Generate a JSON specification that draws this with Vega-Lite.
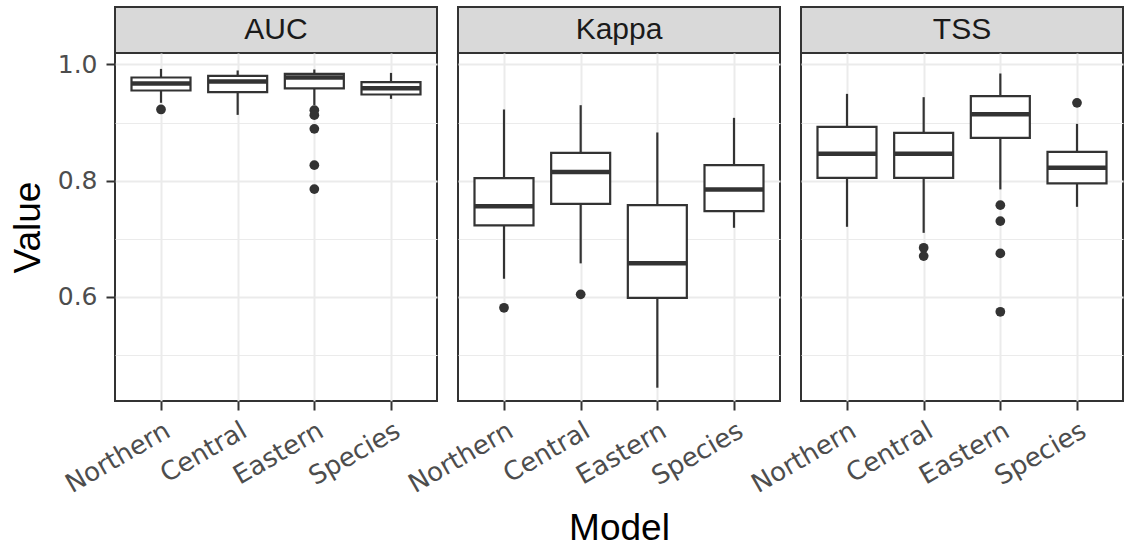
{
  "$schema": "https://vega.github.io/schema/vega-lite/v6.json",
  "padding": {"left": 8, "top": 6, "right": 0, "bottom": 0},
  "background": "white",
  "datasets": {
    "strips": [{"metric": "AUC"}, {"metric": "Kappa"}, {"metric": "TSS"}],
    "boxes": [
      {"metric": "AUC", "model": "Northern", "lower": 0.934, "q1": 0.9552, "median": 0.9673, "q3": 0.9776, "upper": 0.9924},
      {"metric": "AUC", "model": "Central", "lower": 0.9132, "q1": 0.9523, "median": 0.9707, "q3": 0.9804, "upper": 0.9897},
      {"metric": "AUC", "model": "Eastern", "lower": 0.930, "q1": 0.9587, "median": 0.9776, "q3": 0.9838, "upper": 0.9914},
      {"metric": "AUC", "model": "Species", "lower": 0.9408, "q1": 0.9483, "median": 0.9592, "q3": 0.9695, "upper": 0.9855},
      {"metric": "Kappa", "model": "Northern", "lower": 0.6309, "q1": 0.7228, "median": 0.756, "q3": 0.8042, "upper": 0.9225},
      {"metric": "Kappa", "model": "Central", "lower": 0.6574, "q1": 0.76, "median": 0.8146, "q3": 0.8478, "upper": 0.9299},
      {"metric": "Kappa", "model": "Eastern", "lower": 0.4432, "q1": 0.5981, "median": 0.6574, "q3": 0.7577, "upper": 0.8829},
      {"metric": "Kappa", "model": "Species", "lower": 0.7187, "q1": 0.7474, "median": 0.7848, "q3": 0.8266, "upper": 0.9081},
      {"metric": "TSS", "model": "Northern", "lower": 0.7204, "q1": 0.8047, "median": 0.8461, "q3": 0.8926, "upper": 0.9494},
      {"metric": "TSS", "model": "Central", "lower": 0.71, "q1": 0.8047, "median": 0.8461, "q3": 0.8822, "upper": 0.9437},
      {"metric": "TSS", "model": "Eastern", "lower": 0.7848, "q1": 0.8736, "median": 0.9144, "q3": 0.9454, "upper": 0.9845},
      {"metric": "TSS", "model": "Species", "lower": 0.7548, "q1": 0.7951, "median": 0.822, "q3": 0.8495, "upper": 0.8977}
    ],
    "outliers": [
      {"metric": "AUC", "model": "Northern", "value": 0.9225},
      {"metric": "AUC", "model": "Eastern", "value": 0.9213},
      {"metric": "AUC", "model": "Eastern", "value": 0.9127},
      {"metric": "AUC", "model": "Eastern", "value": 0.8891},
      {"metric": "AUC", "model": "Eastern", "value": 0.8266},
      {"metric": "AUC", "model": "Eastern", "value": 0.7853},
      {"metric": "Kappa", "model": "Northern", "value": 0.5809},
      {"metric": "Kappa", "model": "Central", "value": 0.604},
      {"metric": "TSS", "model": "Central", "value": 0.6842},
      {"metric": "TSS", "model": "Central", "value": 0.6699},
      {"metric": "TSS", "model": "Eastern", "value": 0.7577},
      {"metric": "TSS", "model": "Eastern", "value": 0.7302},
      {"metric": "TSS", "model": "Eastern", "value": 0.6746},
      {"metric": "TSS", "model": "Eastern", "value": 0.574},
      {"metric": "TSS", "model": "Species", "value": 0.9339}
    ]
  },
  "columns": 3,
  "spacing": {"row": 0, "column": 21},
  "bounds": "flush",
  "concat": [
    {
      "width": 322, "height": 46,
      "view": {"fill": "#D9D9D9", "stroke": "#333333", "strokeWidth": 2},
      "data": {"name": "strips"},
      "transform": [{"filter": "datum.metric === 'AUC'"}],
      "mark": {"type": "text", "font": "Liberation Sans", "fontSize": 30, "color": "#1A1A1A", "baseline": "middle", "align": "center"},
      "encoding": {"text": {"field": "metric", "type": "nominal"}}
    },
    {
      "width": 322, "height": 46,
      "view": {"fill": "#D9D9D9", "stroke": "#333333", "strokeWidth": 2},
      "data": {"name": "strips"},
      "transform": [{"filter": "datum.metric === 'Kappa'"}],
      "mark": {"type": "text", "font": "Liberation Sans", "fontSize": 30, "color": "#1A1A1A", "baseline": "middle", "align": "center"},
      "encoding": {"text": {"field": "metric", "type": "nominal"}}
    },
    {
      "width": 322, "height": 46,
      "view": {"fill": "#D9D9D9", "stroke": "#333333", "strokeWidth": 2},
      "data": {"name": "strips"},
      "transform": [{"filter": "datum.metric === 'TSS'"}],
      "mark": {"type": "text", "font": "Liberation Sans", "fontSize": 30, "color": "#1A1A1A", "baseline": "middle", "align": "center"},
      "encoding": {"text": {"field": "metric", "type": "nominal"}}
    },
    {
      "width": 322, "height": 348,
      "view": {"fill": "white", "stroke": "#333333", "strokeWidth": 2},
      "encoding": {
        "x": {"field": "model", "type": "nominal", "sort": ["Northern", "Central", "Eastern", "Species"],
              "scale": {"type": "point", "padding": 0.6, "domain": ["Northern", "Central", "Eastern", "Species"]},
              "axis": {"title": null}}
      },
      "layer": [
        {
          "data": {"name": "boxes"}, "transform": [{"filter": "datum.metric === 'AUC'"}],
          "mark": {"type": "rule", "color": "#333333", "strokeWidth": 2.2},
          "encoding": {
            "y": {"field": "lower", "type": "quantitative", "title": "Value",
                  "scale": {"domain": [0.4203, 1.0198], "nice": false, "zero": false},
                  "axis": {"title": "Value", "values": [0.5, 0.6, 0.7, 0.8, 0.9, 1.0],
                           "labelExpr": "round(datum.value*10) % 2 == 0 ? format(datum.value, '.1f') : ''",
                           "tickOpacity": {"condition": {"test": "round(datum.value*10) % 2 == 1", "value": 0}, "value": 1},
                           "gridWidth": {"condition": {"test": "round(datum.value*10) % 2 == 1", "value": 1}, "value": 2}}},
            "y2": {"field": "upper"}
          }
        },
        {
          "data": {"name": "boxes"}, "transform": [{"filter": "datum.metric === 'AUC'"}],
          "mark": {"type": "bar", "size": 59, "fill": "white", "stroke": "#333333", "strokeWidth": 2.2},
          "encoding": {"y": {"field": "q1", "type": "quantitative", "title": "Value"}, "y2": {"field": "q3"}}
        },
        {
          "data": {"name": "boxes"}, "transform": [{"filter": "datum.metric === 'AUC'"}],
          "mark": {"type": "tick", "size": 59, "thickness": 4.5, "color": "#333333", "opacity": 1},
          "encoding": {"y": {"field": "median", "type": "quantitative", "title": "Value"}}
        },
        {
          "data": {"name": "outliers"}, "transform": [{"filter": "datum.metric === 'AUC'"}],
          "mark": {"type": "circle", "size": 95, "color": "#333333", "opacity": 1},
          "encoding": {"y": {"field": "value", "type": "quantitative", "title": "Value"}}
        }
      ]
    },
    {
      "width": 322, "height": 348,
      "view": {"fill": "white", "stroke": "#333333", "strokeWidth": 2},
      "encoding": {
        "x": {"field": "model", "type": "nominal", "sort": ["Northern", "Central", "Eastern", "Species"],
              "scale": {"type": "point", "padding": 0.6, "domain": ["Northern", "Central", "Eastern", "Species"]},
              "axis": {"title": "Model"}}
      },
      "layer": [
        {
          "data": {"name": "boxes"}, "transform": [{"filter": "datum.metric === 'Kappa'"}],
          "mark": {"type": "rule", "color": "#333333", "strokeWidth": 2.2},
          "encoding": {
            "y": {"field": "lower", "type": "quantitative", "title": null,
                  "scale": {"domain": [0.4203, 1.0198], "nice": false, "zero": false},
                  "axis": {"title": null, "labels": false, "ticks": false, "values": [0.5, 0.6, 0.7, 0.8, 0.9, 1.0],
                           "gridWidth": {"condition": {"test": "round(datum.value*10) % 2 == 1", "value": 1}, "value": 2}}},
            "y2": {"field": "upper"}
          }
        },
        {
          "data": {"name": "boxes"}, "transform": [{"filter": "datum.metric === 'Kappa'"}],
          "mark": {"type": "bar", "size": 59, "fill": "white", "stroke": "#333333", "strokeWidth": 2.2},
          "encoding": {"y": {"field": "q1", "type": "quantitative", "title": null}, "y2": {"field": "q3"}}
        },
        {
          "data": {"name": "boxes"}, "transform": [{"filter": "datum.metric === 'Kappa'"}],
          "mark": {"type": "tick", "size": 59, "thickness": 4.5, "color": "#333333", "opacity": 1},
          "encoding": {"y": {"field": "median", "type": "quantitative", "title": null}}
        },
        {
          "data": {"name": "outliers"}, "transform": [{"filter": "datum.metric === 'Kappa'"}],
          "mark": {"type": "circle", "size": 95, "color": "#333333", "opacity": 1},
          "encoding": {"y": {"field": "value", "type": "quantitative", "title": null}}
        }
      ]
    },
    {
      "width": 322, "height": 348,
      "view": {"fill": "white", "stroke": "#333333", "strokeWidth": 2},
      "encoding": {
        "x": {"field": "model", "type": "nominal", "sort": ["Northern", "Central", "Eastern", "Species"],
              "scale": {"type": "point", "padding": 0.6, "domain": ["Northern", "Central", "Eastern", "Species"]},
              "axis": {"title": null}}
      },
      "layer": [
        {
          "data": {"name": "boxes"}, "transform": [{"filter": "datum.metric === 'TSS'"}],
          "mark": {"type": "rule", "color": "#333333", "strokeWidth": 2.2},
          "encoding": {
            "y": {"field": "lower", "type": "quantitative", "title": null,
                  "scale": {"domain": [0.4203, 1.0198], "nice": false, "zero": false},
                  "axis": {"title": null, "labels": false, "ticks": false, "values": [0.5, 0.6, 0.7, 0.8, 0.9, 1.0],
                           "gridWidth": {"condition": {"test": "round(datum.value*10) % 2 == 1", "value": 1}, "value": 2}}},
            "y2": {"field": "upper"}
          }
        },
        {
          "data": {"name": "boxes"}, "transform": [{"filter": "datum.metric === 'TSS'"}],
          "mark": {"type": "bar", "size": 59, "fill": "white", "stroke": "#333333", "strokeWidth": 2.2},
          "encoding": {"y": {"field": "q1", "type": "quantitative", "title": null}, "y2": {"field": "q3"}}
        },
        {
          "data": {"name": "boxes"}, "transform": [{"filter": "datum.metric === 'TSS'"}],
          "mark": {"type": "tick", "size": 59, "thickness": 4.5, "color": "#333333", "opacity": 1},
          "encoding": {"y": {"field": "median", "type": "quantitative", "title": null}}
        },
        {
          "data": {"name": "outliers"}, "transform": [{"filter": "datum.metric === 'TSS'"}],
          "mark": {"type": "circle", "size": 95, "color": "#333333", "opacity": 1},
          "encoding": {"y": {"field": "value", "type": "quantitative", "title": null}}
        }
      ]
    }
  ],
  "config": {
    "font": "Liberation Sans",
    "axis": {
      "domain": false,
      "grid": true,
      "gridColor": "#EBEBEB",
      "gridWidth": 2,
      "tickColor": "#333333",
      "tickWidth": 2,
      "tickSize": 9,
      "labelFont": "DejaVu Sans",
      "labelFontSize": 25,
      "labelColor": "#4D4D4D",
      "labelPadding": 9,
      "titleFont": "Liberation Sans",
      "titleFontSize": 37,
      "titleFontWeight": "normal",
      "titleColor": "#000000"
    },
    "axisY": {"titlePadding": 10},
    "axisX": {"labelAngle": -30, "labelAlign": "right", "labelBaseline": "top", "labelFontSize": 26, "labelPadding": 7, "titlePadding": 13}
  }
}
